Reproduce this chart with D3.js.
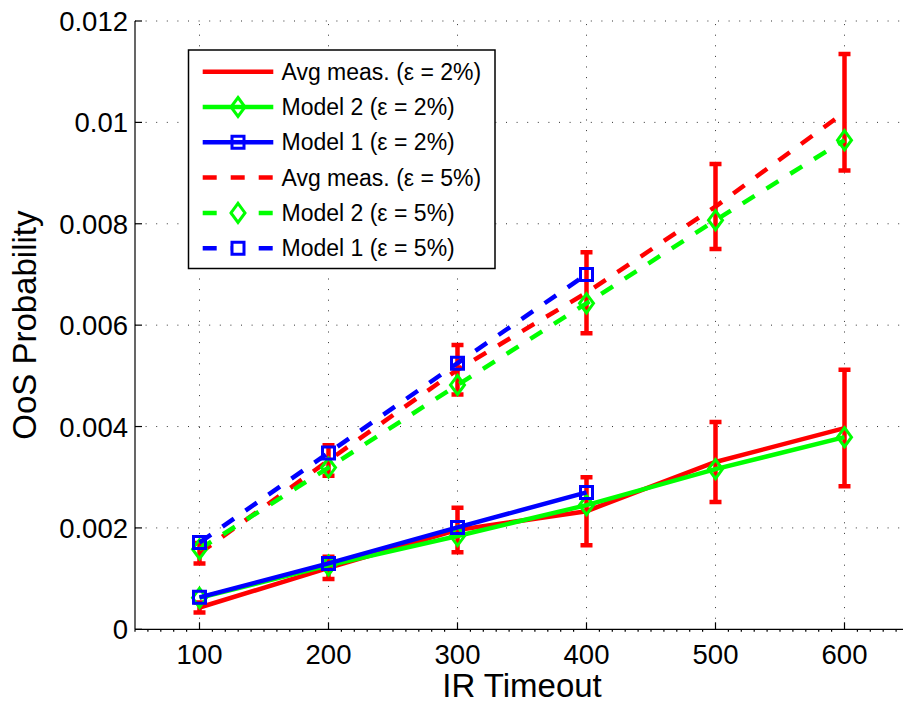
<!DOCTYPE html>
<meta charset="utf-8">
<head>
<script src="https://d3js.org/d3.v7.min.js"></script>
<style>
    body { margin: 0; background: #fff; }
    text { font-family: "Liberation Sans", Arial, Helvetica, sans-serif; fill: #000; }
    .grid line { stroke: #333; stroke-width: 1; stroke-dasharray: 1,9.6; }
</style>
</head>
<body>
<svg id="chart" width="903" height="707"></svg>

<script>

    // timeouts on the x axis
    var timeouts = [100, 200, 300, 400, 500, 600];

    // epsilon = 2%
    var avgMeas2 = [0.00043, 0.00121, 0.00196, 0.00233, 0.00330, 0.00397];
    var avgErr2 = [0.00010, 0.00022, 0.00044, 0.00067, 0.00079, 0.00115];
    var model2_2 = [0.00062, 0.00126, 0.00184, 0.00245, 0.00316, 0.00379];
    var model1_2 = [0.00063, 0.00130, 0.00201, 0.00270];

    // epsilon = 5%
    var avgMeas5 = [0.00150, 0.00333, 0.00512, 0.00664, 0.00834, 0.01020];
    var avgErr5 = [0.00020, 0.00030, 0.00049, 0.00080, 0.00084, 0.00115];
    var model2_5 = [0.00158, 0.00319, 0.00482, 0.00643, 0.00807, 0.00965];
    var model1_5 = [0.00171, 0.00348, 0.00525, 0.00700];

    var xTicks = [100, 200, 300, 400, 500, 600];
    var yTicks = [0, 0.002, 0.004, 0.006, 0.008, 0.01, 0.012];
    var yTickLabels = ["0", "0.002", "0.004", "0.006", "0.008", "0.01", "0.012"];

    var legendLabels = [
      "Avg meas. (\u03b5 = 2%)", "Model 2 (\u03b5 = 2%)", "Model 1 (\u03b5 = 2%)",
      "Avg meas. (\u03b5 = 5%)", "Model 2 (\u03b5 = 5%)", "Model 1 (\u03b5 = 5%)"
    ];

    var svg = d3.select("#chart");
    var plotL = 135, plotR = 909, plotT = 21, plotB = 629.3;

    var x = d3.scaleLinear().domain([50, 650]).range([plotL, plotR]);
    var y = d3.scaleLinear().domain([0, 0.012]).range([plotB, plotT]);

    // dotted grid
    var grid = svg.append("g").attr("class", "grid");
    grid.selectAll(".gx").data(xTicks).enter().append("line")
      .attr("x1", function(d) { return x(d); }).attr("x2", function(d) { return x(d); })
      .attr("y1", plotB).attr("y2", plotT);
    grid.selectAll(".gy").data(yTicks.slice(1)).enter().append("line")
      .attr("x1", plotL).attr("x2", plotR)
      .attr("y1", function(d) { return y(d); }).attr("y2", function(d) { return y(d); });

    // axes
    var axes = svg.append("g").attr("stroke", "#000").attr("stroke-width", 1.2);
    axes.append("line").attr("x1", plotL).attr("x2", plotR).attr("y1", plotB).attr("y2", plotB);
    axes.append("line").attr("x1", plotL).attr("x2", plotL).attr("y1", plotB).attr("y2", plotT);
    axes.selectAll(".tx").data(xTicks).enter().append("line")
      .attr("x1", function(d) { return x(d); }).attr("x2", function(d) { return x(d); })
      .attr("y1", plotB).attr("y2", plotB - 7);
    axes.selectAll(".mx").data(d3.range(50, 651, 10).filter(function(d) { return d % 100 != 0; }))
      .enter().append("line")
      .attr("x1", function(d) { return x(d); }).attr("x2", function(d) { return x(d); })
      .attr("y1", plotB).attr("y2", plotB + 2.5);
    axes.selectAll(".ty").data(yTicks).enter().append("line")
      .attr("x1", plotL).attr("x2", plotL + 7)
      .attr("y1", function(d) { return y(d); }).attr("y2", function(d) { return y(d); });

    svg.selectAll(".xl").data(xTicks).enter().append("text")
      .attr("x", function(d) { return x(d); }).attr("y", 663.5)
      .attr("text-anchor", "middle").attr("font-size", 27.5)
      .text(function(d) { return d; });
    svg.selectAll(".yl").data(yTicks).enter().append("text")
      .attr("x", 128).attr("y", function(d) { return y(d) + 10; })
      .attr("text-anchor", "end").attr("font-size", 27.5)
      .text(function(d, i) { return yTickLabels[i]; });

    svg.append("text").attr("x", (plotL + plotR) / 2).attr("y", 697)
      .attr("text-anchor", "middle").attr("font-size", 33).text("IR Timeout");
    svg.append("text").attr("transform", "translate(36," + ((plotT + plotB) / 2) + ") rotate(-90)")
      .attr("text-anchor", "middle").attr("font-size", 33).text("OoS Probability");

    // markers
    function diamond(cx, cy) {
      return "M" + cx + "," + (cy - 9.5) + "L" + (cx + 7) + "," + cy + "L" + cx + "," + (cy + 9.5) + "L" + (cx - 7) + "," + cy + "Z";
    }
    function square(cx, cy) {
      return "M" + (cx - 6) + "," + (cy - 6) + "h12v12h-12Z";
    }

    var line = d3.line()
      .x(function(d) { return x(d[0]); })
      .y(function(d) { return y(d[1]); });

    var series = [
      { vals: avgMeas2, err: avgErr2, color: "#ff0000", dash: null, marker: null },
      { vals: model2_2, err: null, color: "#00ff00", dash: null, marker: diamond },
      { vals: model1_2, err: null, color: "#0000ff", dash: null, marker: square },
      { vals: avgMeas5, err: avgErr5, color: "#ff0000", dash: "14,14", marker: null },
      { vals: model2_5, err: null, color: "#00ff00", dash: "14,14", marker: diamond },
      { vals: model1_5, err: null, color: "#0000ff", dash: "14,14", marker: square }
    ];

    var plot = svg.append("g");
    series.forEach(function(s) {
      var pts = s.vals.map(function(v, i) { return [timeouts[i], v]; });
      var g = plot.append("g");
      if (s.err) {
        pts.forEach(function(p, i) {
          var lo = y(p[1] - s.err[i]), hi = y(p[1] + s.err[i]), cx = x(p[0]);
          g.append("path")
            .attr("d", "M" + cx + "," + lo + "V" + hi + "M" + (cx - 6) + "," + lo + "h12M" + (cx - 6) + "," + hi + "h12")
            .attr("fill", "none").attr("stroke", s.color).attr("stroke-width", 4.5);
        });
      }
      g.append("path").attr("d", line(pts))
        .attr("fill", "none").attr("stroke", s.color).attr("stroke-width", 4.5)
        .attr("stroke-dasharray", s.dash);
      if (s.marker) {
        g.selectAll(".m").data(pts).enter().append("path")
          .attr("d", function(d) { return s.marker(x(d[0]), y(d[1])); })
          .attr("fill", "none").attr("stroke", s.color).attr("stroke-width", 3);
      }
    });

    // legend
    var lg = svg.append("g");
    lg.append("rect").attr("x", 188.5).attr("y", 50).attr("width", 306.5).attr("height", 218.5)
      .attr("fill", "#fff").attr("stroke", "#000").attr("stroke-width", 1.5);
    series.forEach(function(s, i) {
      var cy = 71.7 + i * 35.3;
      lg.append("line").attr("x1", 202.7).attr("x2", 273.3).attr("y1", cy).attr("y2", cy)
        .attr("stroke", s.color).attr("stroke-width", 4.5).attr("stroke-dasharray", s.dash);
      if (s.marker) {
        lg.append("path").attr("d", s.marker(238, cy))
          .attr("fill", s.dash ? "#fff" : "none").attr("stroke", s.color).attr("stroke-width", 3);
      }
      lg.append("text").attr("x", 281.5).attr("y", cy + 8).attr("font-size", 23).text(legendLabels[i]);
    });

</script>
</body>
